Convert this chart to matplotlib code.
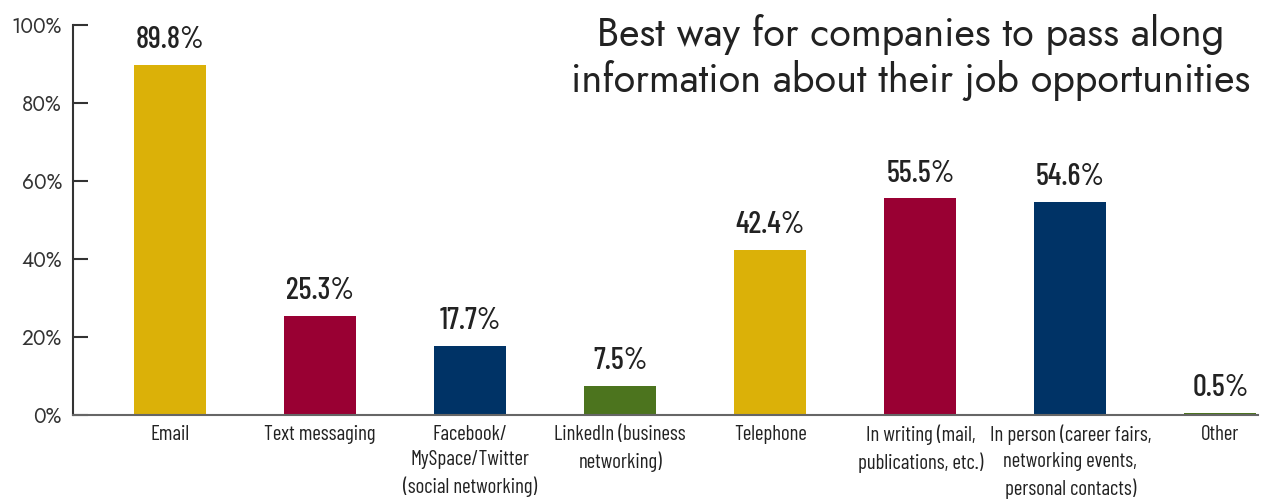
import matplotlib
matplotlib.use("Agg")
import matplotlib.pyplot as plt

categories = ["Email", "Text messaging", "Facebook/\nMySpace/Twitter\n(social networking)",
              "LinkedIn (business\nnetworking)", "Telephone", "In writing (mail,\npublications, etc.)",
              "In person (career fairs,\nnetworking events,\npersonal contacts)", "Other"]
values = [89.8, 25.3, 17.7, 7.5, 42.4, 55.5, 54.6, 0.5]
colors = ["#DBB108", "#990033", "#003366", "#4C741E", "#DBB108", "#990033", "#003366", "#4C741E"]
yticks = [0, 20, 40, 60, 80, 100]

narrow = ["Barlow Condensed", "DejaVu Sans"]
geo = ["Jost", "DejaVu Sans"]

fig = plt.figure(figsize=(12.68, 5.04), dpi=100)
ax = fig.add_axes([0.0576, 0.1766, 0.9345, 0.774])

x = list(range(len(values)))
ax.bar(x, values, width=0.48, color=colors, zorder=2)

# value labels above each bar
for xi, v in zip(x, values):
    ax.text(xi, v + 2.8, f"{v}%", ha="center", va="bottom", fontsize=22,
            family=narrow, fontweight=500, color="#222222")

ax.set_xlim(-0.647, 7.25)
ax.set_ylim(0, 100)
ax.set_yticks(yticks)
ax.set_yticklabels([f"{t}%" for t in yticks], family=geo, fontsize=15, color="#333333")
ax.set_xticks(x)
ax.set_xticklabels(categories, family=narrow, fontsize=15, color="#222222", linespacing=1.45)
ax.tick_params(axis="x", length=0, pad=7)
ax.tick_params(axis="y", direction="in", length=11, width=1.5, color="#333333", pad=8)

for s in ["top", "right"]:
    ax.spines[s].set_visible(False)
ax.spines["left"].set_color("#333333")
ax.spines["left"].set_linewidth(1.5)
ax.spines["bottom"].set_color("#666666")
ax.spines["bottom"].set_linewidth(1.5)

fig.text(0.718, 0.972, "Best way for companies to pass along\ninformation about their job opportunities",
         ha="center", va="top", fontsize=28.5, family=geo, color="#222222", linespacing=1.15)

fig.savefig("out.png", dpi=100)
